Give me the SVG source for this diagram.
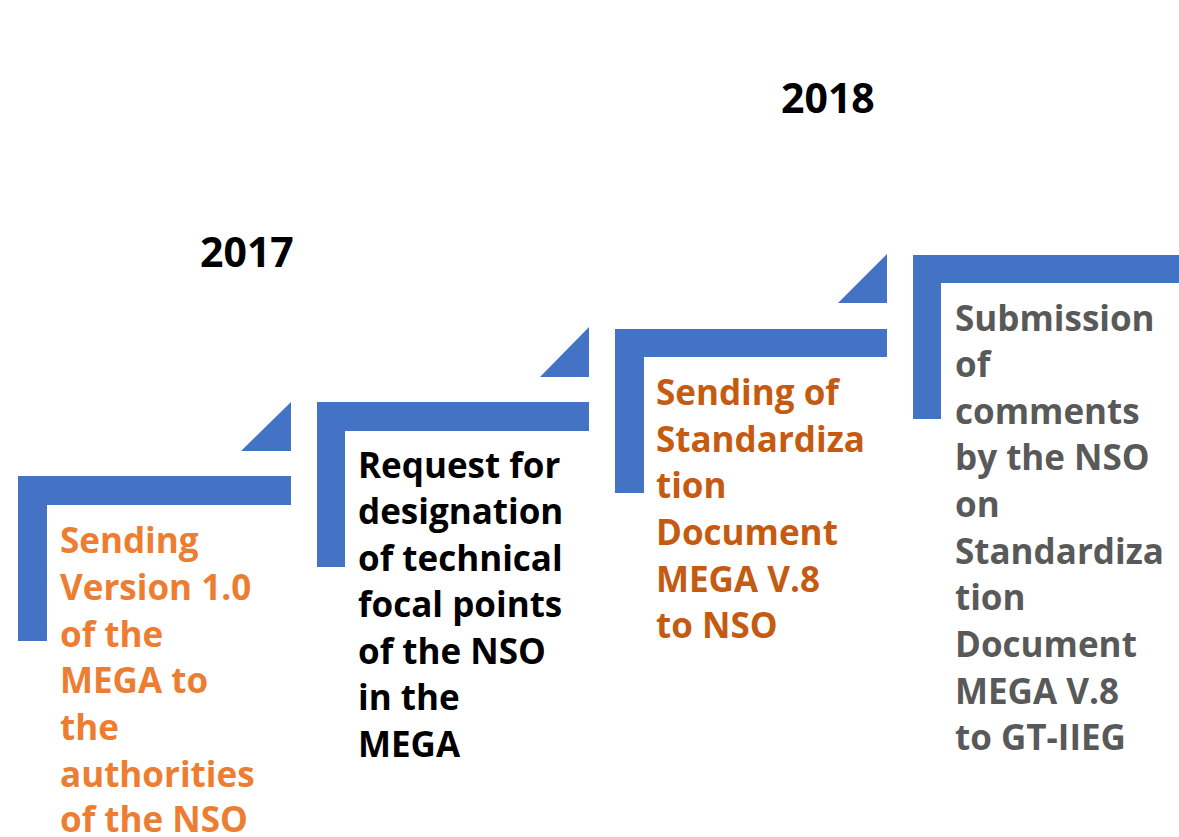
<svg xmlns="http://www.w3.org/2000/svg" width="1179" height="837" viewBox="0 0 1179 837">
<defs>
<style>
.shape{fill:#4472C4;}
.t{font-family:"Open Sans","Liberation Sans",sans-serif;font-weight:bold;font-size:35px;}
.yr{font-family:"Open Sans","Liberation Sans",sans-serif;font-weight:bold;font-size:41px;fill:#000000;}
.c1{fill:#ED7D31;}
.c2{fill:#000000;}
.c3{fill:#C55A11;}
.c4{fill:#595959;}
</style>
</defs>
<rect width="1179" height="837" fill="#FFFFFF"/>
<g id="year2017"><text class="yr" x="200" y="267">2017</text></g>
<g id="year2018"><text class="yr" x="781" y="113">2018</text></g>
<g id="step1">
<path class="shape" d="M18,476 H291 V505 H47 V641 H18 Z"/>
<path class="shape" d="M241,451 L291,402 V451 Z"/>
<text class="t c1" x="60">
<tspan x="60" y="553">Sending</tspan>
<tspan x="60" y="600">Version 1.0</tspan>
<tspan x="60" y="647">of the</tspan>
<tspan x="60" y="693">MEGA to</tspan>
<tspan x="60" y="740">the</tspan>
<tspan x="60" y="787">authorities</tspan>
<tspan x="60" y="832">of the NSO</tspan>
</text>
</g>
<g id="step2">
<path class="shape" d="M317,402 H589 V431 H345 V567 H317 Z"/>
<path class="shape" d="M540,377 L589,327 V377 Z"/>
<text class="t c2" x="358">
<tspan x="358" y="478">Request for</tspan>
<tspan x="358" y="524">designation</tspan>
<tspan x="358" y="571">of technical</tspan>
<tspan x="358" y="617">focal points</tspan>
<tspan x="358" y="664">of the NSO</tspan>
<tspan x="358" y="710">in the</tspan>
<tspan x="358" y="757">MEGA</tspan>
</text>
</g>
<g id="step3">
<path class="shape" d="M615,329 H887 V357 H644 V493 H615 Z"/>
<path class="shape" d="M838,303 L887,254 V303 Z"/>
<text class="t c3" x="656">
<tspan x="656" y="405">Sending of</tspan>
<tspan x="656" y="452">Standardiza</tspan>
<tspan x="656" y="498">tion</tspan>
<tspan x="656" y="545">Document</tspan>
<tspan x="656" y="592">MEGA V.8</tspan>
<tspan x="656" y="638">to NSO</tspan>
</text>
</g>
<g id="step4">
<path class="shape" d="M913,255 H1179 V283 H941 V419 H913 Z"/>
<text class="t c4" x="955">
<tspan x="955" y="331">Submission</tspan>
<tspan x="955" y="377">of</tspan>
<tspan x="955" y="424">comments</tspan>
<tspan x="955" y="470">by the NSO</tspan>
<tspan x="955" y="517">on</tspan>
<tspan x="955" y="564">Standardiza</tspan>
<tspan x="955" y="610">tion</tspan>
<tspan x="955" y="657">Document</tspan>
<tspan x="955" y="704">MEGA V.8</tspan>
<tspan x="955" y="750">to GT-IIEG</tspan>
</text>
</g>
<g id="connectors"></g>
</svg>
